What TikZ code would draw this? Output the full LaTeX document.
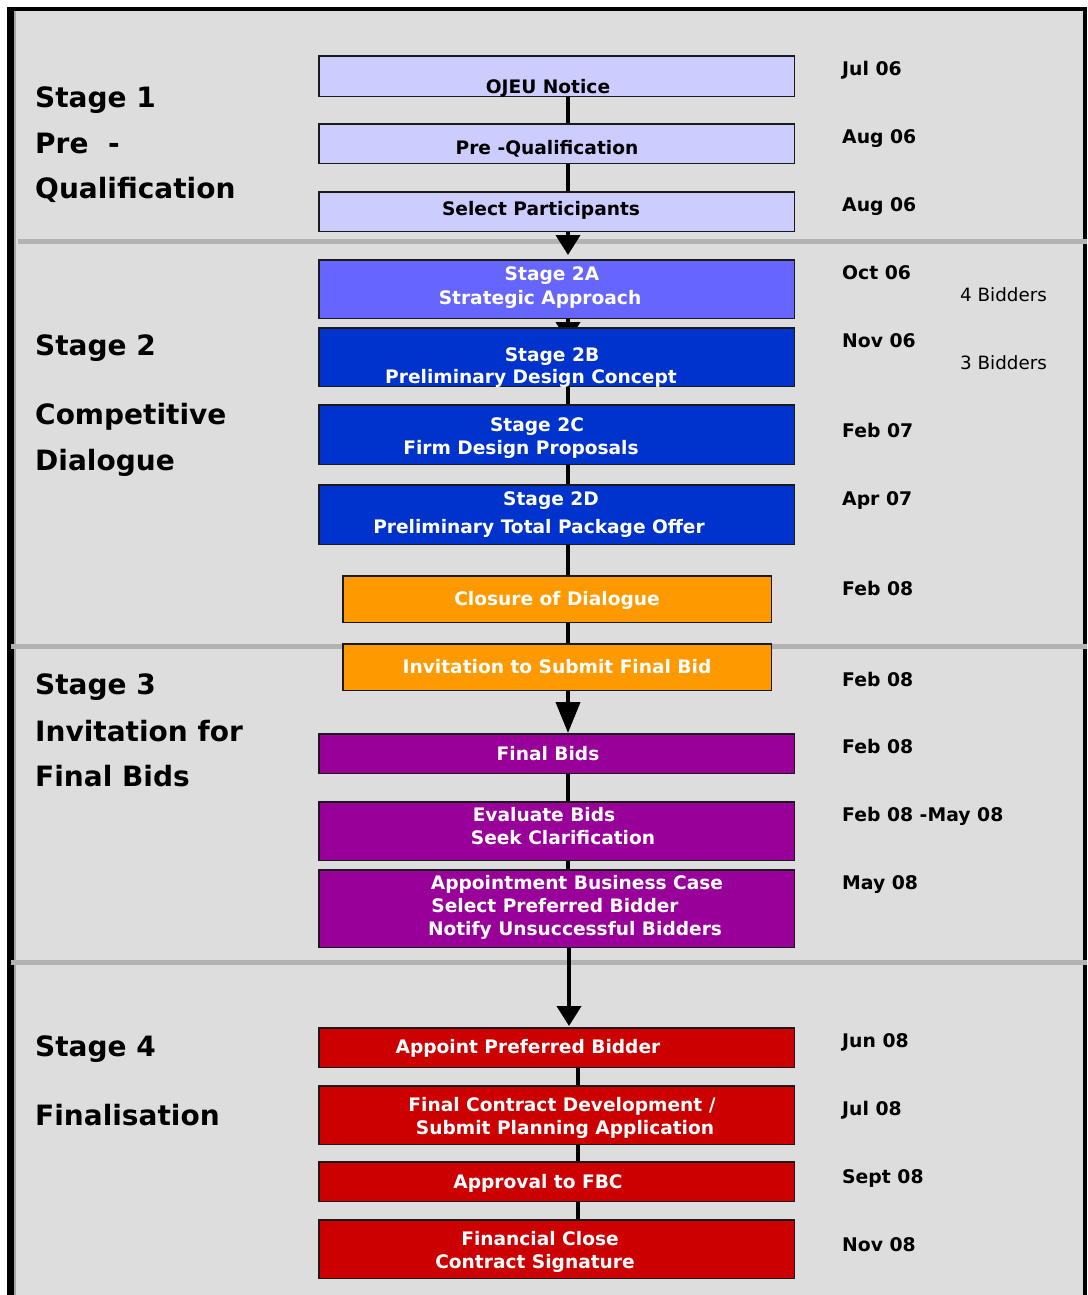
\documentclass[tikz,border=0pt]{standalone}
\usepackage{fontspec}
\setmainfont{DejaVu Sans}
\usetikzlibrary{arrows.meta}
\definecolor{panel}{HTML}{DDDDDD}
\definecolor{rule}{HTML}{B2B2B2}
\definecolor{edge}{HTML}{1A1A1A}
\definecolor{lilac}{HTML}{CCCCFF}
\definecolor{violet}{HTML}{6666FF}
\definecolor{royal}{HTML}{0033CC}
\definecolor{amber}{HTML}{FF9900}
\definecolor{plum}{HTML}{990099}
\definecolor{crimson}{HTML}{CC0000}
\begin{document}
\begin{tikzpicture}[x=1pt,y=-1pt,
  procbox/.style={draw=edge,line width=1.2pt,inner sep=0,anchor=north west},
  wide/.style={minimum width=474pt},
  narrow/.style={minimum width=427pt},
  boxtext/.style={font=\bfseries\fontsize{18.6}{21}\selectfont,text height=0.73em,text depth=0pt,inner sep=0,anchor=center,yshift=-3pt},
  darktext/.style={boxtext,text=black},
  lighttext/.style={boxtext,text=white},
  datetext/.style={font=\bfseries\fontsize{18.8}{21}\selectfont,text height=0.73em,text depth=0pt,inner sep=0,anchor=west,yshift=-3pt},
  notetext/.style={font=\fontsize{18.3}{21}\selectfont,text height=0.73em,text depth=0pt,inner sep=0,anchor=west,yshift=-3pt},
  stagetext/.style={font=\bfseries\fontsize{28}{31}\selectfont,text height=0.73em,text depth=0pt,inner sep=0,anchor=west,yshift=-7pt},
  link/.style={line width=4pt,black},
  flow/.style={link,-{Triangle[width=24pt,length=20pt]}},
  bigflow/.style={link,-{Triangle[width=24pt,length=31pt]}},
]
\useasboundingbox (0,0) rectangle (1087,1295);
% frame and panel
\fill[white] (0,0) rectangle (1087,1295);
\fill[panel] (14,11) rectangle (1083,1295);
\fill[gray!70] (14,11) rectangle (16,1295);
\fill[black] (7,7) rectangle (14,1295);
\fill[black] (7,7) rectangle (1087,11);
\fill[black] (1083,7) rectangle (1087,1295);
% stage separators
\fill[rule] (18,239) rectangle (1087,244);
\fill[rule] (11,644) rectangle (1087,649);
\fill[rule] (11,960) rectangle (1087,965);

% spine coordinates
\coordinate (sp) at (568,0);
\coordinate (sq) at (578,0);
\coordinate (sr) at (569,0);

% boxes (placed first so connectors can refer to them, filled afterwards)
\path
  (319,56)   node[procbox,wide,minimum height=39pt] (ojeu) {}
  (319,124)  node[procbox,wide,minimum height=38pt] (preq) {}
  (319,192)  node[procbox,wide,minimum height=38pt] (selp) {}
  (319,260)  node[procbox,wide,minimum height=57pt] (s2a) {}
  (319,328)  node[procbox,wide,minimum height=57pt] (s2b) {}
  (319,405)  node[procbox,wide,minimum height=58pt] (s2c) {}
  (319,485)  node[procbox,wide,minimum height=58pt] (s2d) {}
  (343,576)  node[procbox,narrow,minimum height=45pt] (clos) {}
  (343,644)  node[procbox,narrow,minimum height=45pt] (invit) {}
  (319,734)  node[procbox,wide,minimum height=38pt] (fbids) {}
  (319,802)  node[procbox,wide,minimum height=57pt] (evalb) {}
  (319,870)  node[procbox,wide,minimum height=76pt] (appbc) {}
  (319,1028) node[procbox,wide,minimum height=38pt] (apb) {}
  (319,1086) node[procbox,wide,minimum height=57pt] (fcd) {}
  (319,1162) node[procbox,wide,minimum height=38pt] (fbc) {}
  (319,1220) node[procbox,wide,minimum height=57pt] (fclose) {};

% connectors
\draw[link] (ojeu.south -| sp) -- (preq.north -| sp);
\draw[link] (preq.south -| sp) -- (selp.north -| sp);
\draw[flow] (selp.south -| sp) -- ([yshift=5pt]s2a.north -| sp);
\draw[flow] (s2a.south -| sp) -- ([yshift=-14pt]s2b.north -| sp);
\draw[link] (s2b.south -| sp) -- (s2c.north -| sp);
\draw[link] (s2c.south -| sp) -- (s2d.north -| sp);
\draw[link] (s2d.south -| sp) -- (clos.north -| sp);
\draw[link] (clos.south -| sp) -- (invit.north -| sp);
\draw[bigflow] (invit.south -| sp) -- ([yshift=1pt]fbids.north -| sp);
\draw[link] (fbids.south -| sp) -- (evalb.north -| sp);
\draw[link] (evalb.south -| sp) -- (appbc.north -| sp);
\draw[flow] (appbc.south -| sr) -- ([yshift=2pt]apb.north -| sr);
\draw[link] (apb.south -| sq) -- (fcd.north -| sq);
\draw[link] (fcd.south -| sq) -- (fbc.north -| sq);
\draw[link] (fbc.south -| sq) -- (fclose.north -| sq);

% box fills drawn over the connectors
\foreach \b/\c in {ojeu/lilac,preq/lilac,selp/lilac,s2a/violet,s2b/royal,s2c/royal,s2d/royal,
                   clos/amber,invit/amber,fbids/plum,evalb/plum,appbc/plum,
                   apb/crimson,fcd/crimson,fbc/crimson,fclose/crimson}
  \draw[edge,line width=1.2pt,fill=\c] (\b.north west) rectangle (\b.south east);

% box labels
\node[darktext]  (l1)  at (548,87)   {OJEU Notice};
\node[darktext]  (l2)  at (547,148)  {Pre -Qualification};
\node[darktext]  (l3)  at (541,209)  {Select Participants};
\node[lighttext] (l4)  at (552,274)  {Stage 2A};
\node[lighttext] (l5)  at (540,298)  {Strategic Approach};
\node[lighttext] (l6)  at (552,355)  {Stage 2B};
\node[lighttext] (l7)  at (531,377)  {Preliminary Design Concept};
\node[lighttext] (l8)  at (537,425)  {Stage 2C};
\node[lighttext] (l9)  at (521,448)  {Firm Design Proposals};
\node[lighttext] (l10) at (551,499)  {Stage 2D};
\node[lighttext] (l11) at (539,527)  {Preliminary Total Package Offer};
\node[lighttext] (l12) at (557,599)  {Closure of Dialogue};
\node[lighttext] (l13) at (557,667)  {Invitation to Submit Final Bid};
\node[lighttext] (l14) at (548,754)  {Final Bids};
\node[lighttext] (l15) at (544,815)  {Evaluate Bids};
\node[lighttext] (l16) at (563,838)  {Seek Clarification};
\node[lighttext] (l17) at (577,883)  {Appointment Business Case};
\node[lighttext] (l18) at (555,906)  {Select Preferred Bidder};
\node[lighttext] (l19) at (575,929)  {Notify Unsuccessful Bidders};
\node[lighttext] (l20) at (528,1047) {Appoint Preferred Bidder};
\node[lighttext] (l21) at (562,1105) {Final Contract Development /};
\node[lighttext] (l22) at (565,1128) {Submit Planning Application};
\node[lighttext] (l23) at (538,1182) {Approval to FBC};
\node[lighttext] (l24) at (540,1239) {Financial Close};
\node[lighttext] (l25) at (535,1262) {Contract Signature};

% dates
\node[datetext] (d1)  at (842,69)   {Jul 06};
\node[datetext] (d2)  at (842,137)  {Aug 06};
\node[datetext] (d3)  at (842,205)  {Aug 06};
\node[datetext] (d4)  at (842,273)  {Oct 06};
\node[datetext] (d5)  at (842,341)  {Nov 06};
\node[datetext] (d6)  at (842,431)  {Feb 07};
\node[datetext] (d7)  at (842,499)  {Apr 07};
\node[datetext] (d8)  at (842,589)  {Feb 08};
\node[datetext] (d9)  at (842,680)  {Feb 08};
\node[datetext] (d10) at (842,747)  {Feb 08};
\node[datetext] (d11) at (842,815)  {Feb 08 -May 08};
\node[datetext] (d12) at (842,883)  {May 08};
\node[datetext] (d13) at (842,1041) {Jun 08};
\node[datetext] (d14) at (842,1109) {Jul 08};
\node[datetext] (d15) at (842,1177) {Sept 08};
\node[datetext] (d16) at (842,1245) {Nov 08};
\node[notetext] (n1)  at (960,295)  {4 Bidders};
\node[notetext] (n2)  at (960,363)  {3 Bidders};

% stage headings
\node[stagetext] (h1)  at (35,97)   {Stage 1};
\node[stagetext] (h2)  at (35,143)  {Pre\ \ -};
\node[stagetext] (h3)  at (35,188)  {Qualification};
\node[stagetext] (h4)  at (35,345)  {Stage 2};
\node[stagetext] (h5)  at (35,414)  {Competitive};
\node[stagetext] (h6)  at (35,460)  {Dialogue};
\node[stagetext] (h7)  at (35,684)  {Stage 3};
\node[stagetext] (h8)  at (35,731)  {Invitation for};
\node[stagetext] (h9)  at (35,776)  {Final Bids};
\node[stagetext] (h10) at (35,1046) {Stage 4};
\node[stagetext] (h11) at (35,1115) {Finalisation};
\end{tikzpicture}
\end{document}
